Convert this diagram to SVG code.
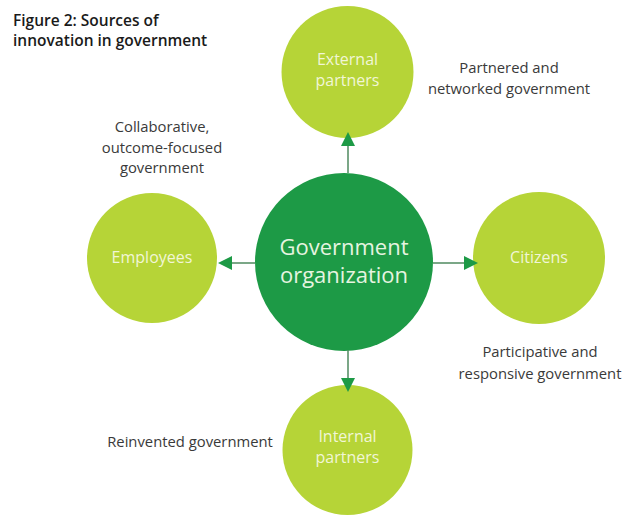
<svg xmlns="http://www.w3.org/2000/svg" width="623" height="516" viewBox="0 0 623 516">
<style>
  .title { font-family: "Open Sans", "Noto Sans", sans-serif; font-weight: 600; font-size: 15.5px; fill: #1a1a1a; }
  .lbl { font-family: "Open Sans", "Noto Sans", sans-serif; font-size: 14.8px; fill: #3a3a3a; text-anchor: middle; }
  .outer { fill: #b6d437; }
  .outer-t { font-family: "Open Sans", "Noto Sans", sans-serif; font-size: 16px; fill: #f1f6d6; text-anchor: middle; }
  .core { fill: #1d9a46; }
  .core-t { font-family: "Open Sans", "Noto Sans", sans-serif; font-size: 22px; fill: #e6f4e0; text-anchor: middle; }
  .conn { stroke: #4f8a5f; stroke-width: 1.5; fill: none; }
  .head { fill: #1d9a46; }
</style>
<rect width="623" height="516" fill="#ffffff"/>
<g id="title">
  <text class="title" x="13" y="26">Figure 2: Sources of</text>
  <text class="title" x="13" y="46">innovation in government</text>
</g>
<g id="node-external">
  <circle class="outer" cx="347.5" cy="72" r="66"/>
  <text class="outer-t" x="347.5" y="65">External</text>
  <text class="outer-t" x="347.5" y="86">partners</text>
</g>
<g id="node-employees">
  <circle class="outer" cx="152" cy="258" r="65"/>
  <text class="outer-t" x="152" y="263">Employees</text>
</g>
<g id="node-citizens">
  <circle class="outer" cx="539" cy="258" r="66"/>
  <text class="outer-t" x="539" y="263">Citizens</text>
</g>
<g id="node-internal">
  <circle class="outer" cx="347.5" cy="450" r="65"/>
  <text class="outer-t" x="347.5" y="442">Internal</text>
  <text class="outer-t" x="347.5" y="463">partners</text>
</g>
<g id="node-core">
  <circle class="core" cx="344" cy="262" r="89"/>
  <text class="core-t" x="344" y="255">Government</text>
  <text class="core-t" x="344" y="283">organization</text>
</g>
<g id="connectors">
  <line class="conn" x1="348" y1="173" x2="348" y2="145"/>
  <polygon class="head" points="348,132 341,146 355,146"/>
  <line class="conn" x1="348" y1="350" x2="348" y2="379"/>
  <polygon class="head" points="348,392 341,378 355,378"/>
  <line class="conn" x1="255" y1="263" x2="231" y2="263"/>
  <polygon class="head" points="218,263 232,256 232,270"/>
  <line class="conn" x1="433" y1="263" x2="465" y2="263"/>
  <polygon class="head" points="478,263 464,256 464,270"/>
</g>
<g id="labels">
  <text class="lbl" x="162" y="132">Collaborative,</text>
  <text class="lbl" x="162" y="153">outcome-focused</text>
  <text class="lbl" x="162" y="173">government</text>
  <text class="lbl" x="509" y="73">Partnered and</text>
  <text class="lbl" x="509" y="94">networked government</text>
  <text class="lbl" x="540" y="357">Participative and</text>
  <text class="lbl" x="540" y="379">responsive government</text>
  <text class="lbl" x="190" y="447">Reinvented government</text>
</g>
</svg>
